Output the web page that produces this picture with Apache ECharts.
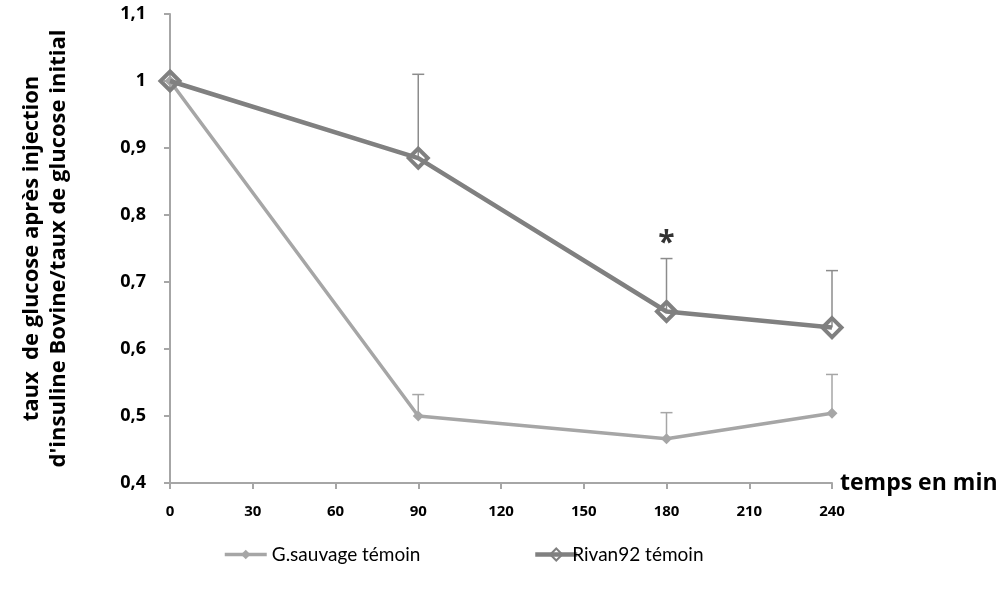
<!DOCTYPE html>
<html>
<head>
<meta charset="utf-8">
<script src="https://cdn.jsdelivr.net/npm/echarts@6/dist/echarts.min.js"></script>
<style>html,body{margin:0;padding:0;background:#fff}#c{width:1008px;height:598px}</style>
</head>
<body>
<div id="c"></div>
<script>
var times = [0, 90, 180, 240];
var sauvageMean = [1.0, 0.5, 0.466, 0.504];
var sauvageErr = [0, 0.032, 0.039, 0.058];
var rivanMean = [1.0, 0.885, 0.656, 0.632];
var rivanErr = [0, 0.125, 0.079, 0.085];
var xTicks = [0, 30, 60, 90, 120, 150, 180, 210, 240];
var yTicks = [0.4, 0.5, 0.6, 0.7, 0.8, 0.9, 1, 1.1];
var starPoint = [180, 0.757];
var seriesNames = ['G.sauvage témoin', 'Rivan92 témoin'];

var BOLD = 'Open Sans';
var REG = 'Lato';
function pairs(xs, ys) { return xs.map(function (x, i) { return [x, ys[i]]; }); }
function errData(xs, m, e) { return xs.map(function (x, i) { return [x, m[i], m[i] + e[i]]; }).filter(function (d) { return d[2] > d[1]; }); }
function errSeries(data, color) {
  return {
    type: 'custom', silent: true, z: 1, data: data,
    encode: { x: 0, y: [1, 2] },
    renderItem: function (params, api) {
      var p0 = api.coord([api.value(0), api.value(1)]);
      var p1 = api.coord([api.value(0), api.value(2)]);
      var hw = 6;
      return {
        type: 'group', children: [
          { type: 'line', shape: { x1: p0[0], y1: p0[1], x2: p1[0], y2: p1[1] }, style: { stroke: color, lineWidth: 1.5 } },
          { type: 'line', shape: { x1: p1[0] - hw, y1: p1[1], x2: p1[0] + hw, y2: p1[1] }, style: { stroke: color, lineWidth: 1.5 } }
        ]
      };
    }
  };
}

var chart = echarts.init(document.getElementById('c'));
chart.setOption({
  animation: false,
  backgroundColor: '#fff',
  grid: { left: 170, right: 176, top: 14, bottom: 115, outerBoundsMode: 'none', containLabel: false },
  legend: [
    { data: [seriesNames[0]], left: 218, top: 540, itemWidth: 42, itemHeight: 12,
      lineStyle: { width: 3.5 },
      textStyle: { fontFamily: REG, fontSize: 19, color: '#000' } },
    { data: [seriesNames[1]], left: 528, top: 540, itemWidth: 42, itemHeight: 15, itemGap: 2,
      lineStyle: { width: 4.5 },
      textStyle: { fontFamily: REG, fontSize: 19, color: '#000', padding: [0, 0, 0, -10] } }
  ],
  xAxis: {
    type: 'value', min: xTicks[0], max: xTicks[xTicks.length - 1], interval: 30,
    name: 'temps en min', nameLocation: 'end', nameGap: 8,
    nameTextStyle: { fontFamily: BOLD, fontSize: 23, fontWeight: 'bold', color: '#000', verticalAlign: 'middle' },
    axisLine: { show: true, onZero: false, lineStyle: { color: '#A6A6A6', width: 2 } },
    axisTick: { show: true, length: 6, lineStyle: { color: '#A6A6A6', width: 2 } },
    axisLabel: { margin: 21, fontFamily: BOLD, fontSize: 15, fontWeight: 'bold', color: '#000' },
    splitLine: { show: false }
  },
  yAxis: {
    type: 'value', min: yTicks[0], max: yTicks[yTicks.length - 1], interval: 0.1,
    name: "taux  de glucose après injection\nd'insuline Bovine/taux de glucose initial",
    nameLocation: 'middle', nameRotate: 90, nameGap: 98,
    nameTextStyle: { fontFamily: BOLD, fontSize: 22, fontWeight: 'bold', color: '#000', lineHeight: 27 },
    axisLine: { show: true, onZero: false, lineStyle: { color: '#A6A6A6', width: 2 } },
    axisTick: { show: true, length: 6, lineStyle: { color: '#A6A6A6', width: 2 } },
    axisLabel: { margin: 24, fontFamily: BOLD, fontSize: 18, fontWeight: 'bold', color: '#000',
      formatter: function (v) { return String(parseFloat(v.toFixed(1))).replace('.', ','); } },
    splitLine: { show: false }
  },
  series: [
    errSeries(errData(times, sauvageMean, sauvageErr), '#A6A6A6'),
    errSeries(errData(times, rivanMean, rivanErr), '#8C8C8C'),
    {
      name: seriesNames[0], type: 'line', z: 3, data: pairs(times, sauvageMean),
      symbol: 'diamond', symbolSize: 11,
      lineStyle: { color: '#A6A6A6', width: 3.5 },
      itemStyle: { color: '#A6A6A6' }
    },
    {
      name: seriesNames[1], type: 'line', z: 4, data: pairs(times, rivanMean),
      symbol: 'diamond', symbolSize: 19,
      lineStyle: { color: '#808080', width: 4.5 },
      itemStyle: { color: 'rgba(255,255,255,0)', borderColor: '#808080', borderWidth: 4 }
    },
    {
      type: 'scatter', silent: true, z: 5, data: [starPoint], symbolSize: 0,
      label: { show: true, position: 'inside', formatter: '*', fontFamily: BOLD, fontSize: 30, fontWeight: 'bold', color: '#000' }
    }
  ]
});
</script>
</body>
</html>
